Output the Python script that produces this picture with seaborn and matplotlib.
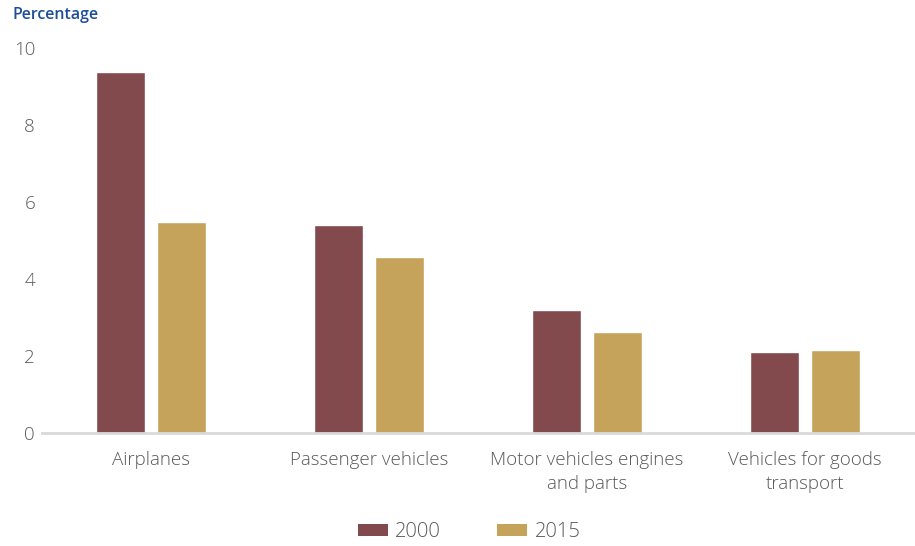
import matplotlib
matplotlib.use("Agg")
import matplotlib.pyplot as plt
import seaborn as sns
import pandas as pd
from matplotlib.patches import Patch

categories = ["Airplanes", "Passenger vehicles", "Motor vehicles engines\nand parts",
              "Vehicles for goods\ntransport"]
years = ["2000", "2015"]
values_2000 = [9.38, 5.40, 3.19, 2.10]
values_2015 = [5.48, 4.57, 2.62, 2.16]
y_ticks = [0, 2, 4, 6, 8, 10]

colors = {"2000": "#834A4E", "2015": "#C5A35A"}

df = pd.DataFrame({
    "category": categories * 2,
    "year": ["2000"] * 4 + ["2015"] * 4,
    "value": values_2000 + values_2015,
})

sns.set_theme(style="white")
plt.rcParams["font.family"] = ["Open Sans", "DejaVu Sans"]

fig = plt.figure(figsize=(9.15, 5.46), dpi=100)
ax = fig.add_axes([42 / 915, 113 / 546, 872 / 915, 385 / 546])

sns.barplot(data=df, x="category", y="value", hue="year", order=categories,
            hue_order=years, palette=colors, width=0.56, gap=0.2,
            saturation=1, legend=False, ax=ax)

ax.set_xlim(-0.5, 3.5)
ax.set_ylim(0, 10)
ax.set_yticks(y_ticks)
ax.set_xlabel("")
ax.set_ylabel("")
for side in ["top", "right", "left"]:
    ax.spines[side].set_visible(False)
ax.spines["bottom"].set_color("#d9d9d9")
ax.spines["bottom"].set_linewidth(2)
ax.tick_params(axis="both", length=0, colors="#595959", labelsize=13.5)
ax.tick_params(axis="x", pad=13)
ax.tick_params(axis="y", pad=5)
for lbl in ax.get_xticklabels():
    lbl.set_fontweight("light")
    lbl.set_linespacing(1.45)
for lbl in ax.get_yticklabels():
    lbl.set_fontweight("light")

fig.text(12 / 915, 1 - 15 / 546, "Percentage", color="#1F4E99", fontsize=11.5,
         fontweight="semibold", va="center", ha="left")

handles = [Patch(facecolor=colors[y], edgecolor="none") for y in years]
fig.legend(handles, years, loc="center", bbox_to_anchor=(469 / 915, 1 - 532 / 546),
           ncol=2, frameon=False, handlelength=1.5, handleheight=0.5,
           columnspacing=2.8, handletextpad=0.35, labelcolor="#595959",
           prop={"weight": "light", "size": 14.5})

fig.savefig("out.png", dpi=100)
